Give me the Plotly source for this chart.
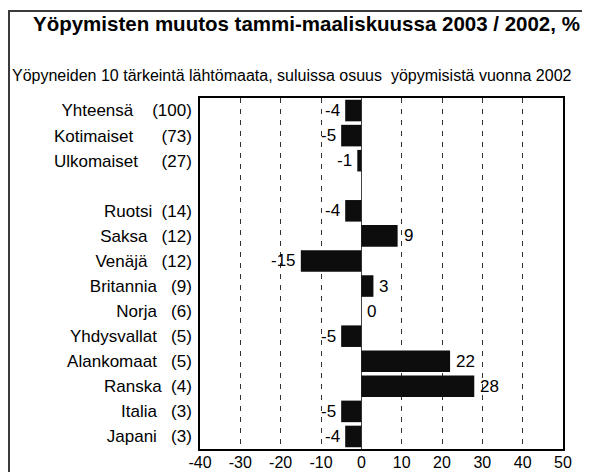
import plotly.graph_objects as go

categories = ["Yhteensä", "Kotimaiset", "Ulkomaiset", "", "Ruotsi", "Saksa", "Venäjä",
              "Britannia", "Norja", "Yhdysvallat", "Alankomaat", "Ranska", "Italia", "Japani"]
shares = [100, 73, 27, None, 14, 12, 12, 9, 6, 5, 5, 4, 3, 3]
changes = [-4, -5, -1, None, -4, 9, -15, 3, 0, -5, 22, 28, -5, -4]
x_ticks = [-40, -30, -20, -10, 0, 10, 20, 30, 40, 50]

title = "Yöpymisten muutos tammi-maaliskuussa 2003 / 2002, %"
subtitle = "Yöpyneiden 10 tärkeintä lähtömaata, suluissa osuus  yöpymisistä vuonna 2002"

FONT = "Liberation Sans, Arial, sans-serif"
NB = "\u00a0"
FS = 17
# spacing (in non-breaking spaces) between name and share, per row (styling only)
label_gaps = [4, 6, 5, 0, 2, 3, 3, 3, 3, 3, 3, 2, 3, 3]

rows = list(range(len(categories)))
ticktext = []
for c, s, g in zip(categories, shares, label_gaps):
    ticktext.append("" if s is None else f"{c}{NB*g}({s})")

fig = go.Figure()
fig.add_trace(go.Bar(
    x=changes, y=rows, orientation="h",
    marker=dict(color="#0d0d0d", line=dict(width=0)),
    width=0.86, hoverinfo="skip",
))

for r, v in zip(rows, changes):
    if v is None:
        continue
    if v < 0:
        fig.add_annotation(x=v, y=r, text=str(v), showarrow=False, xanchor="right",
                           xshift=-3, font=dict(size=FS, color="black", family=FONT))
    else:
        fig.add_annotation(x=v, y=r, text=str(v), showarrow=False, xanchor="left",
                           xshift=4, font=dict(size=FS, color="black", family=FONT))

# page body has an 8px margin; figure pixel coords = reference coords - 8
OFF = 8
W, H = 582, 464
L, R, T, B = 192, 27, 90, 23
pw, ph = W - L - R, H - T - B

def px_x(x):
    return (x - OFF - L) / pw

def px_y(y):
    return (H - B - (y - OFF)) / ph

fig.add_annotation(xref="paper", yref="paper", x=px_x(306.5), y=px_y(23), text=f"<b>{title}</b>",
                   showarrow=False, xanchor="center", yanchor="middle",
                   font=dict(size=20.5, color="black", family=FONT))
fig.add_annotation(xref="paper", yref="paper", x=px_x(292), y=px_y(75), text=subtitle,
                   showarrow=False, xanchor="center", yanchor="middle",
                   font=dict(size=16, color="black", family=FONT))

fig.add_shape(type="rect", xref="paper", yref="paper",
              x0=px_x(9), x1=px_x(589), y0=px_y(490), y1=px_y(11),
              line=dict(color="#3a3a3a", width=2))

fig.update_layout(
    width=W, height=H,
    margin=dict(l=L, r=R, t=T, b=B, autoexpand=False),
    paper_bgcolor="white", plot_bgcolor="white",
    showlegend=False,
    font=dict(family=FONT, color="black", size=FS),
)
fig.update_xaxes(
    range=[-40, 50], tickvals=x_ticks, ticktext=[str(t) for t in x_ticks],
    showgrid=True, gridcolor="#333", gridwidth=1, griddash="5px,6px",
    zeroline=True, zerolinecolor="#444", zerolinewidth=1,
    showline=True, linecolor="black", linewidth=1.5, mirror=True,
    ticks="", ticklabelstandoff=-2, tickfont=dict(size=16, family=FONT, color="black"),
    fixedrange=True,
)
fig.update_yaxes(
    range=[13.5, -0.5], tickvals=rows, ticktext=ticktext,
    showgrid=False, zeroline=False,
    showline=True, linecolor="black", linewidth=1.5, mirror=True,
    ticks="", ticklabelstandoff=3, tickfont=dict(size=FS, family=FONT, color="black"),
    fixedrange=True,
)

fig.write_html("out.html")
